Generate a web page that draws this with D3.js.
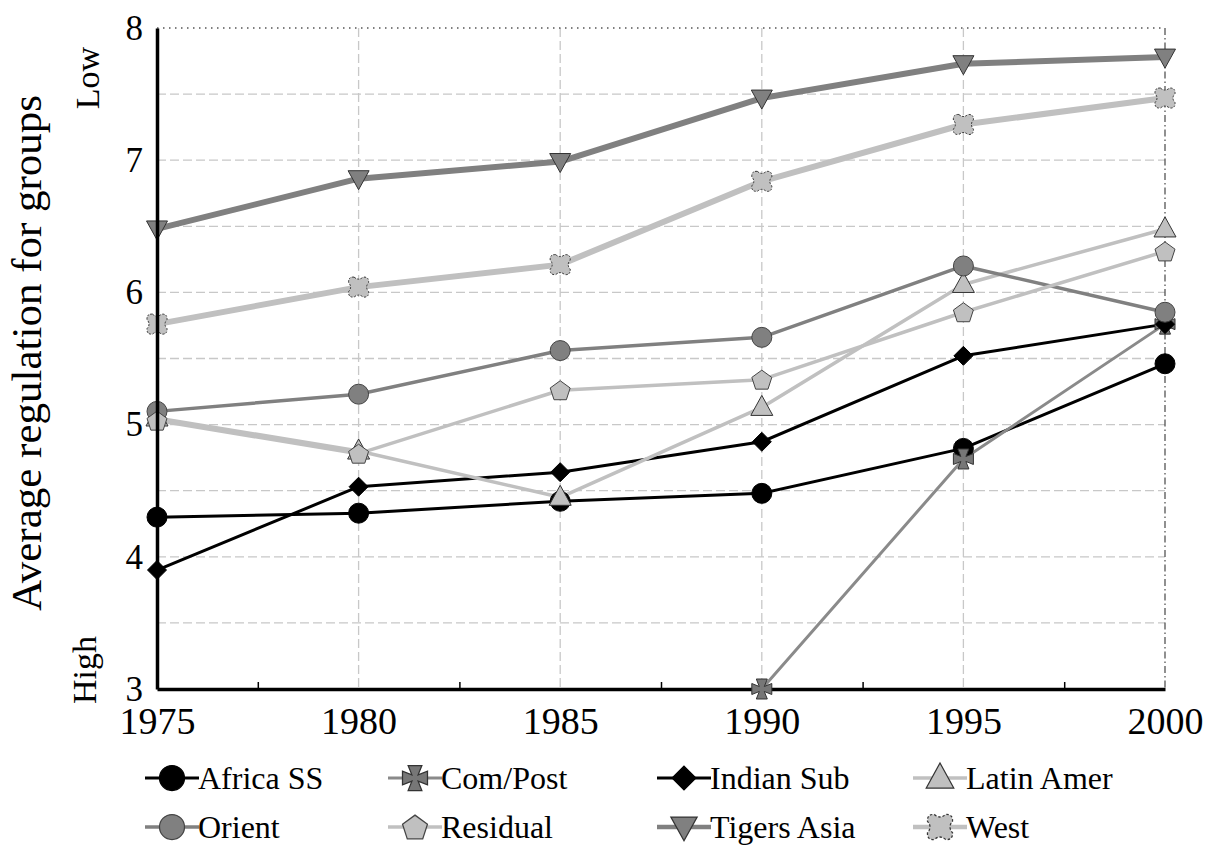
<!DOCTYPE html>
<html><head><meta charset="utf-8">
<script src="https://cdn.jsdelivr.net/npm/d3@7/dist/d3.min.js"></script>
<style>body{margin:0;background:#fff}svg{display:block}text{font-family:"Liberation Serif","Times New Roman",serif;fill:#000}</style>
</head><body><svg id="c" width="1213" height="850"></svg>
<script>
const years = [1975, 1980, 1985, 1990, 1995, 2000];
const seriesNames = ["Africa SS","Com/Post","Indian Sub","Latin Amer","Orient","Residual","Tigers Asia","West"];
const africaSS   = [4.30, 4.33, 4.42, 4.48, 4.82, 5.46];
const comPost    = [null, null, null, 3.00, 4.74, 5.76];
const indianSub  = [3.90, 4.53, 4.64, 4.87, 5.52, 5.76];
const latinAmer  = [5.05, 4.80, 4.45, 5.13, 6.06, 6.48];
const orient     = [5.10, 5.23, 5.56, 5.66, 6.20, 5.85];
const residual   = [5.03, 4.78, 5.26, 5.34, 5.85, 6.31];
const tigersAsia = [6.48, 6.86, 6.99, 7.47, 7.73, 7.78];
const west       = [5.76, 6.04, 6.21, 6.84, 7.27, 7.47];
const yTicks = [3, 4, 5, 6, 7, 8];
const yTitle = "Average regulation for groups";

const values = [africaSS, comPost, indianSub, latinAmer, orient, residual, tigersAsia, west];

const styles = [
  {line:"#000", w:3, marker:"circle", fill:"#000", stroke:"#000"},
  {line:"#8a8a8a", w:3, marker:"cross", fill:"#777", stroke:"#333"},
  {line:"#000", w:3, marker:"diamond", fill:"#000", stroke:"#000"},
  {line:"#c0c0c0", w:3.5, marker:"tri", fill:"#c0c0c0", stroke:"#333"},
  {line:"#808080", w:3.5, marker:"circle", fill:"#808080", stroke:"#444"},
  {line:"#c0c0c0", w:3.5, marker:"penta", fill:"#c0c0c0", stroke:"#444"},
  {line:"#808080", w:6, marker:"tridown", fill:"#808080", stroke:"#333"},
  {line:"#c0c0c0", w:6, marker:"west", fill:"#c0c0c0", stroke:"#333", dash:"2,1.5"}
];

function markerPath(t){
  if(t==="circle"){ return d3.symbol().type(d3.symbolCircle).size(Math.PI*10*10)(); }
  if(t==="diamond") return "M0,-9.5L9.5,0L0,9.5L-9.5,0Z";
  if(t==="tri") return "M0,-12L11,8L-11,8Z";
  if(t==="tridown") return "M0,11L10.5,-8L-10.5,-8Z";
  if(t==="penta"){
    const pts=d3.range(5).map(k=>{const a=-Math.PI/2+k*2*Math.PI/5;return [10.5*Math.cos(a),10.5*Math.sin(a)+1];});
    return "M"+pts.map(p=>p.join(",")).join("L")+"Z";
  }
  if(t==="cross") return "M-2.5,-2.5L-5.5,-10L5.5,-10L2.5,-2.5L10,-5.5L10,5.5L2.5,2.5L5.5,10L-5.5,10L-2.5,2.5L-10,5.5L-10,-5.5Z";
  if(t==="west") return "M-4.5,-10Q0,-6 4.5,-10Q10.5,-10.5 10,-4.5Q6,0 10,4.5Q10.5,10.5 4.5,10Q0,6 -4.5,10Q-10.5,10.5 -10,4.5Q-6,0 -10,-4.5Q-10.5,-10.5 -4.5,-10Z";
}

const svg = d3.select("#c");
const L=157, R=1165, T=28, B=689;
const x = d3.scaleLinear().domain([1975,2000]).range([L,R]);
const y = d3.scaleLinear().domain([3,8]).range([B,T]);

// grid
const g = svg.append("g");
g.selectAll(".hg").data(d3.range(3.5,8,0.5)).join("line")
  .attr("x1",L).attr("x2",R).attr("y1",d=>y(d)).attr("y2",d=>y(d))
  .attr("stroke","#c8c8c8").attr("stroke-width",1.3).attr("stroke-dasharray","9,4");
g.selectAll(".vg").data([1980,1985,1990,1995]).join("line")
  .attr("x1",d=>x(d)).attr("x2",d=>x(d)).attr("y1",T).attr("y2",B)
  .attr("stroke","#c8c8c8").attr("stroke-width",1.3).attr("stroke-dasharray","9,4");
// top and right borders
svg.append("line").attr("x1",L).attr("x2",R).attr("y1",T).attr("y2",T)
  .attr("stroke","#555").attr("stroke-width",1.3).attr("stroke-dasharray","1.5,4.5");
svg.append("line").attr("x1",R).attr("x2",R).attr("y1",T).attr("y2",B)
  .attr("stroke","#555").attr("stroke-width",1.3).attr("stroke-dasharray","7,3,1.5,3");

// bottom axis
const xAxis = d3.axisBottom(x).tickValues(years).tickSize(0).tickFormat(d3.format("d"));
const xa = svg.append("g").attr("transform",`translate(0,${B})`).call(xAxis);
xa.select(".domain").attr("stroke","#000").attr("stroke-width",3.5);
xa.selectAll("text").attr("font-size",38).attr("dy",0).attr("y",45);
// minor ticks
const xMinor = d3.axisTop(x).tickValues([1977.5,1982.5,1987.5,1992.5,1997.5]).tickSize(7).tickFormat("");
const xm = svg.append("g").attr("transform",`translate(0,${B})`).call(xMinor);
xm.select(".domain").remove();
xm.selectAll("line").attr("stroke","#000").attr("stroke-width",1.5);

// series
const line = d3.line().defined(d=>d[1]!=null).x(d=>x(d[0])).y(d=>y(d[1]));
values.forEach((vals,i)=>{
  const s=styles[i];
  const pts = years.map((yr,j)=>[yr,vals[j]]);
  svg.append("path").attr("d",line(pts)).attr("fill","none")
    .attr("stroke",s.line).attr("stroke-width",s.w).attr("stroke-linejoin","round");
});
values.forEach((vals,i)=>{
  const s=styles[i];
  const pts = years.map((yr,j)=>[yr,vals[j]]).filter(d=>d[1]!=null);
  svg.append("g").selectAll("path").data(pts).join("path")
    .attr("d",markerPath(s.marker))
    .attr("transform",d=>`translate(${x(d[0])},${y(d[1])})`)
    .attr("fill",s.fill).attr("stroke",s.stroke).attr("stroke-width",1)
    .attr("stroke-dasharray",s.dash||null);
});

// left axis
const yAxis = d3.axisLeft(y).tickValues(yTicks).tickSize(0).tickFormat(d3.format("d"));
const ya = svg.append("g").attr("transform",`translate(${L},0)`).call(yAxis);
ya.select(".domain").attr("stroke","#000").attr("stroke-width",3.5);
ya.selectAll("text").attr("font-size",35).attr("x",-14).attr("dy","0.32em");

// titles
svg.append("text").attr("transform","translate(41,353) rotate(-90)")
  .attr("text-anchor","middle").attr("font-size",43).text(yTitle);
svg.append("text").attr("transform","translate(99,78) rotate(-90)")
  .attr("text-anchor","middle").attr("font-size",34).text("Low");
svg.append("text").attr("transform","translate(96,670) rotate(-90)")
  .attr("text-anchor","middle").attr("font-size",34).text("High");

// legend
const legX = [172, 415, 684, 940];
const legY = [778, 827];
seriesNames.forEach((name,i)=>{
  const s=styles[i];
  const cx=legX[i%4], cy=legY[Math.floor(i/4)];
  const lg=svg.append("g").attr("transform",`translate(${cx},${cy})`);
  lg.append("line").attr("x1",-27).attr("x2",27).attr("stroke",s.line).attr("stroke-width",Math.min(s.w,4.5));
  lg.append("path").attr("d",markerPath(s.marker)).attr("fill",s.fill).attr("stroke",s.stroke)
    .attr("stroke-width",1).attr("stroke-dasharray",s.dash||null).attr("transform","scale(1.25)");
  lg.append("text").attr("x",26).attr("dy","0.34em").attr("font-size",32).text(name);
});
</script></body></html>
